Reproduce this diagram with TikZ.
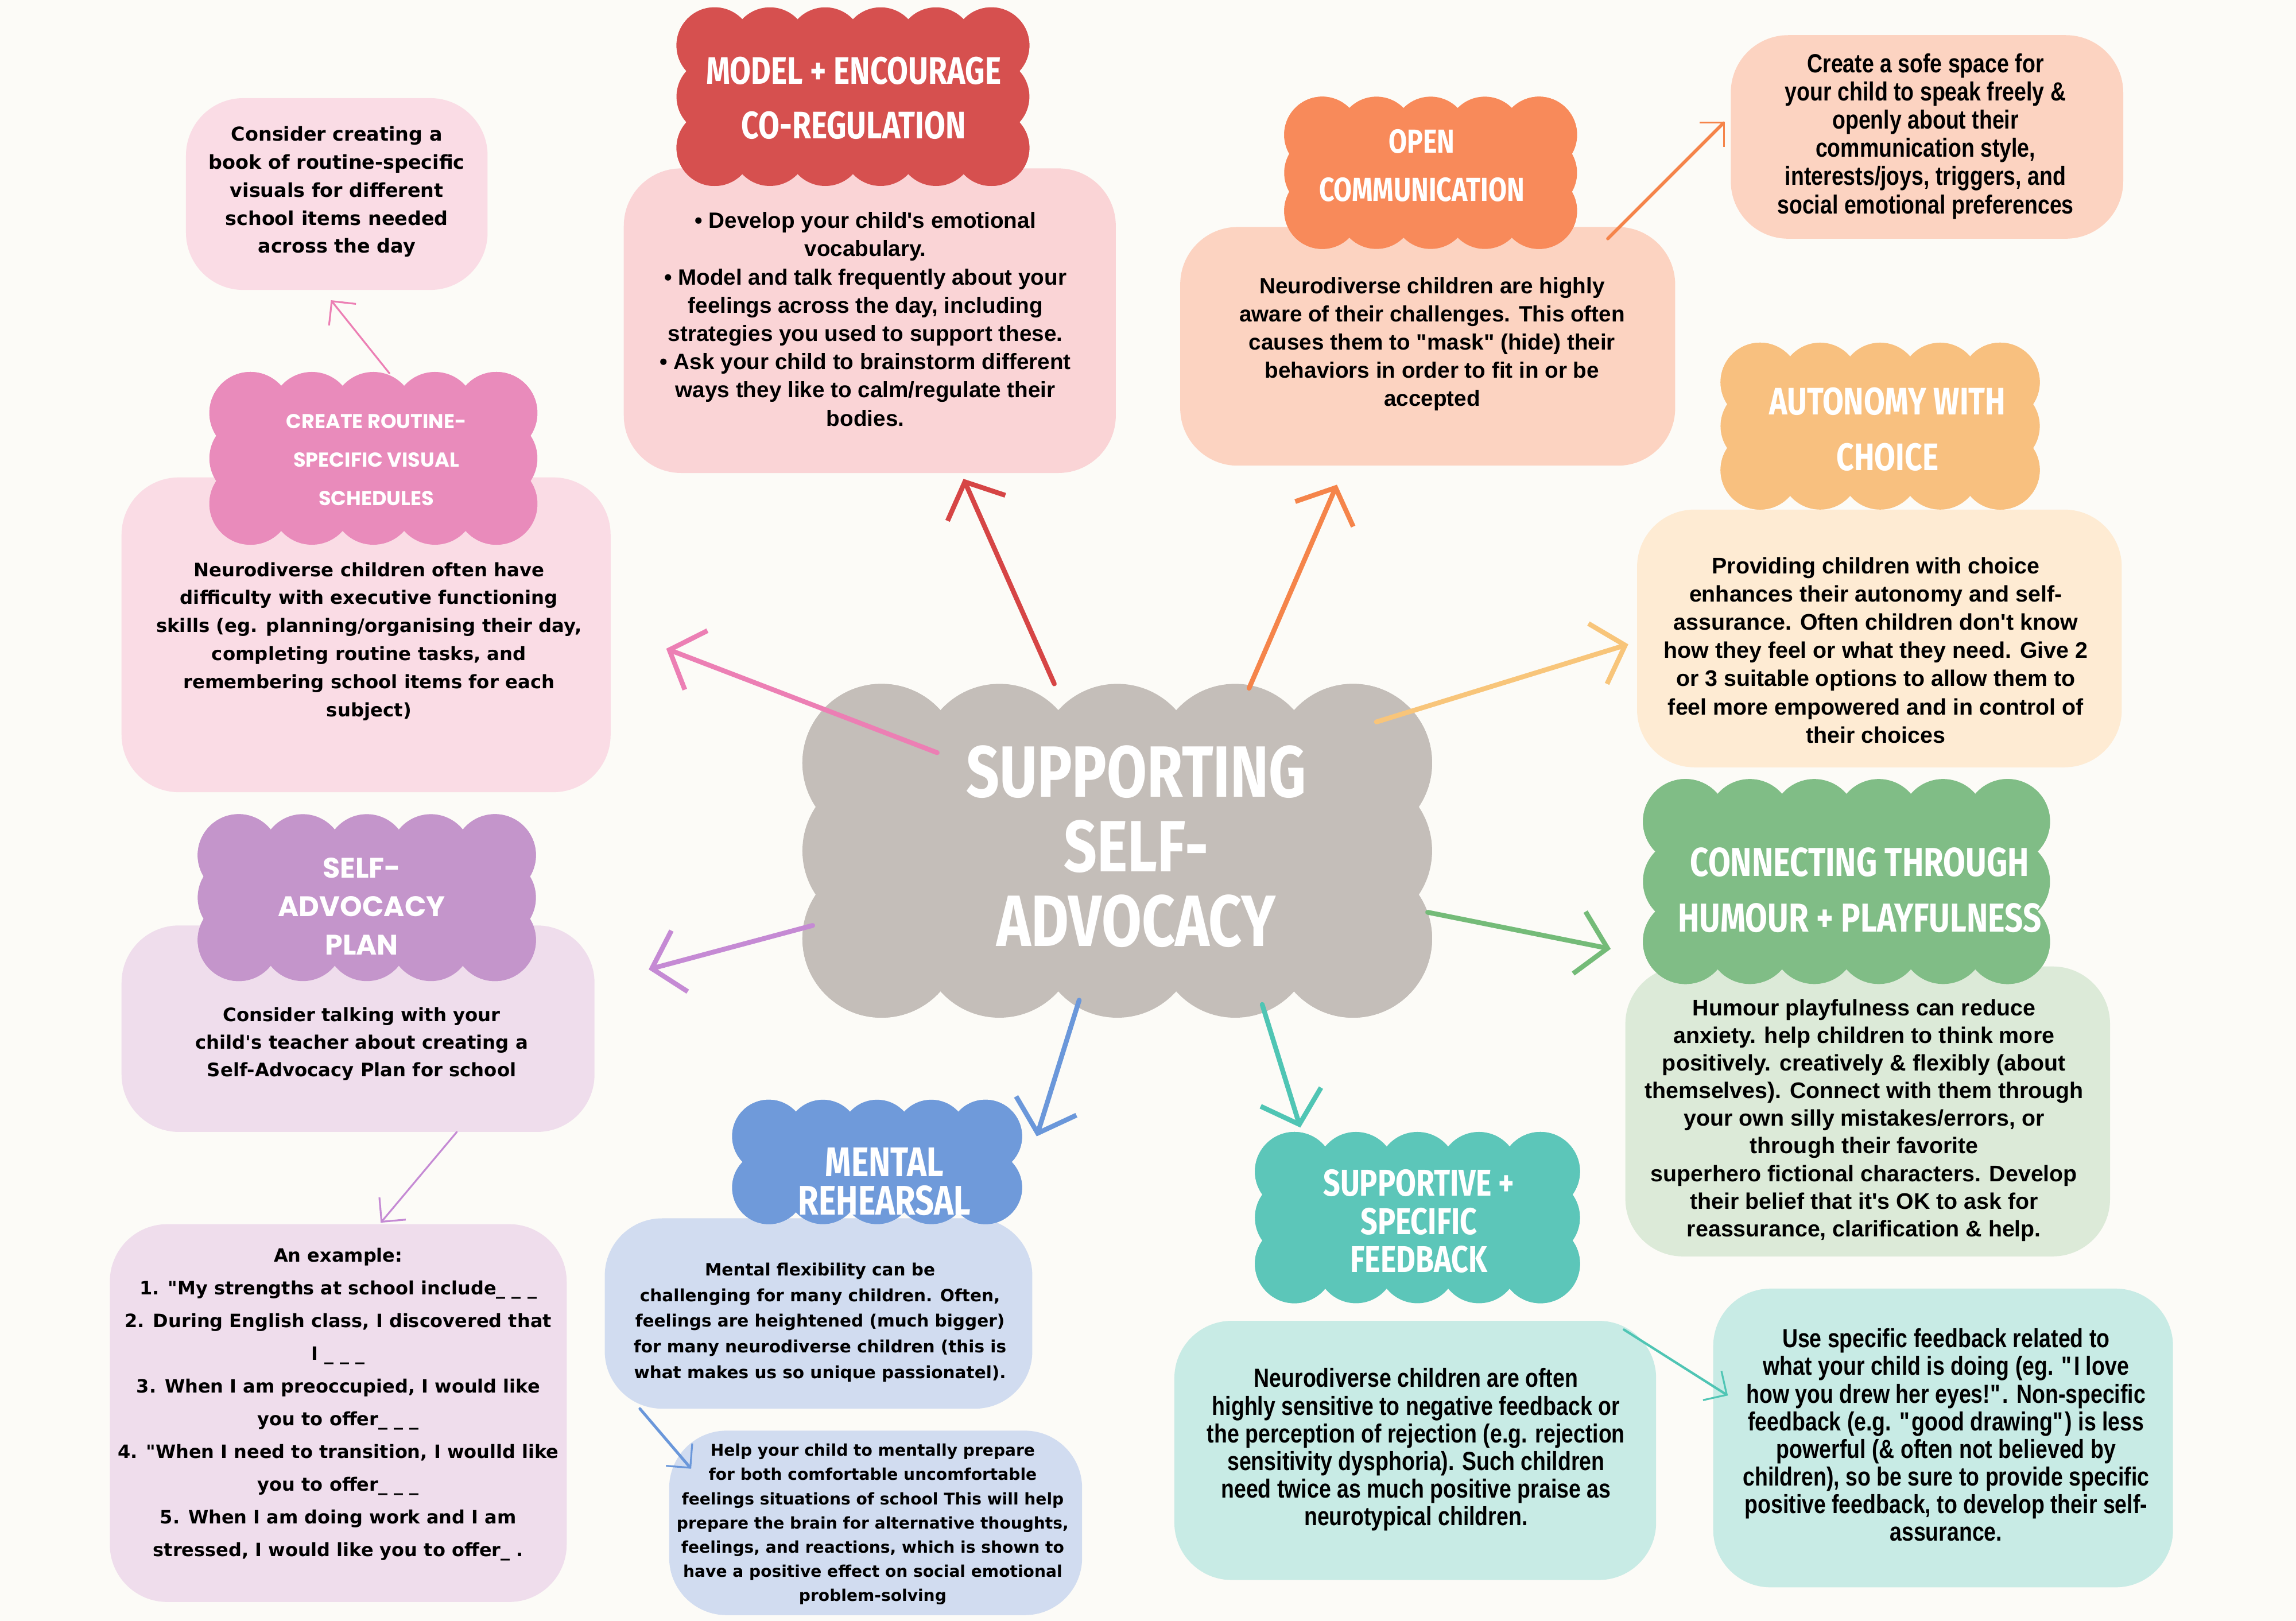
\documentclass[tikz,border=0pt]{standalone}
\usepackage{fontspec}
\setmainfont{Liberation Sans}
\newfontfamily\narrowfont{Liberation Sans}[FakeStretch=0.82]
\newfontfamily\widefont{DejaVu Sans}
\newfontfamily\headfont{Fira Sans}[FakeStretch=0.8]
\newfontfamily\roundfont{Poppins}
\usetikzlibrary{arrows.meta,fit}
\newcommand\q{\textquotedbl}
\newcommand\ap{\textquotesingle}
\definecolor{cBg}{HTML}{FCFBF7}
\definecolor{cCenter}{HTML}{C4BEB9}
\definecolor{cRed}{HTML}{D6504F}
\definecolor{cRedBox}{HTML}{FAD4D6}
\definecolor{cRedArr}{HTML}{D64545}
\definecolor{cOra}{HTML}{F88A5A}
\definecolor{cOraBox}{HTML}{FCD3C1}
\definecolor{cOraArr}{HTML}{F5844A}
\definecolor{cYel}{HTML}{F8C07F}
\definecolor{cYelBox}{HTML}{FEEBD3}
\definecolor{cYelArr}{HTML}{F8C57A}
\definecolor{cGre}{HTML}{80BD86}
\definecolor{cGreBox}{HTML}{DCEAD8}
\definecolor{cGreArr}{HTML}{74BB78}
\definecolor{cTea}{HTML}{5CC6B9}
\definecolor{cTeaBox}{HTML}{C8EBE5}
\definecolor{cTeaArr}{HTML}{4FC5B4}
\definecolor{cBlu}{HTML}{6F9ADA}
\definecolor{cBluBox}{HTML}{D1DCF0}
\definecolor{cBluArr}{HTML}{6A97DA}
\definecolor{cPur}{HTML}{C495CB}
\definecolor{cPurBox}{HTML}{EFDDEC}
\definecolor{cPurArr}{HTML}{C58AD4}
\definecolor{cPin}{HTML}{E98BBB}
\definecolor{cPinBox}{HTML}{FADCE5}
\definecolor{cPinArr}{HTML}{EC7FB4}
% scalloped cloud: x1,y1,x2,y2,nx,ny,r,colour
\newcommand\scloud[8]{%
  \fill[#8] ({#1+#7},{#2+#7}) rectangle ({#3-#7},{#4-#7});
  \foreach \i in {0,...,#5}{
    \fill[#8] ({#1+#7+\i*(#3-#1-2*#7)/#5},{#2+#7}) circle (#7);
    \fill[#8] ({#1+#7+\i*(#3-#1-2*#7)/#5},{#4-#7}) circle (#7);
  }
  \foreach \j in {0,...,#6}{
    \fill[#8] ({#1+#7},{#2+#7+\j*(#4-#2-2*#7)/#6}) circle (#7);
    \fill[#8] ({#3-#7},{#2+#7+\j*(#4-#2-2*#7)/#6}) circle (#7);
  }
}
\begin{document}
\begin{tikzpicture}[x=0.2551mm,y=-0.2551mm,
  box/.style={inner sep=0pt, rounded corners=10mm},
  txt/.style={align=center, inner sep=0pt, text=black, font=\bfseries},
  head/.style={align=center, inner sep=0pt, text=white},
  mainarrow/.style={line width=2.4pt, line cap=round, -{Straight Barb[length=5mm,width=11mm,line width=2.4pt]}},
  thinarrow/.style={line width=0.9pt, line cap=round, -{Straight Barb[length=3mm,width=6mm,line width=0.9pt]}}]
\useasboundingbox (0,0) rectangle (1568,1107);
\fill[cBg] (0,0) rectangle (1568,1107);

% ---------- boxes ----------
\node[box, fill=cRedBox, fit={(426,115) (762,323)}] (bRed) {};
\node[box, fill=cOraBox, fit={(806,155) (1144,318)}] (bOra) {};
\node[box, fill=cOraBox, fit={(1182,24) (1450,163)}] (bSafe) {};
\node[box, fill=cYelBox, fit={(1118,348) (1449,524)}] (bYel) {};
\node[box, fill=cGreBox, fit={(1110,660) (1441,858)}] (bGre) {};
\node[box, fill=cTeaBox, fit={(802,902) (1131,1079)}] (bTea) {};
\node[box, fill=cTeaBox, fit={(1170,880) (1484,1084)}] (bTea2) {};
\node[box, fill=cBluBox, fit={(413,832) (705,962)}] (bBlu) {};
\node[box, fill=cBluBox, fit={(457,977) (739,1103)}] (bBlu2) {};
\node[box, fill=cPurBox, fit={(83,632) (406,773)}] (bPur) {};
\node[box, fill=cPurBox, fit={(75,836) (387,1094)}] (bPur2) {};
\node[box, fill=cPinBox, fit={(83,326) (417,541)}] (bPin) {};
\node[box, fill=cPinBox, fit={(127,67) (333,198)}] (bPin2) {};

% ---------- clouds ----------
\scloud{548}{467}{978}{695}{4}{2}{54}{cCenter}
\scloud{462}{5}{703}{127}{5}{2}{26}{cRed}
\scloud{877}{66}{1077}{170}{4}{2}{26}{cOra}
\scloud{1175}{234}{1393}{348}{4}{2}{27}{cYel}
\scloud{1122}{532}{1400}{672}{5}{2}{29}{cGre}
\scloud{857}{773}{1079}{890}{4}{2}{27}{cTea}
\scloud{500}{751}{698}{836}{4}{1}{25}{cBlu}
\scloud{135}{556}{366}{670}{4}{2}{28}{cPur}
\scloud{143}{254}{367}{372}{4}{2}{28}{cPin}

% ---------- headings ----------
\node[head, font=\headfont\bfseries\fontsize{36}{37}\selectfont] (hC) at (776,578) {SUPPORTING\\SELF-\\ADVOCACY};
\node[head, font=\headfont\bfseries\fontsize{19}{27}\selectfont] (hRed) at (583,67) {MODEL + ENCOURAGE\\CO-REGULATION};
\node[head, font=\headfont\bfseries\fontsize{16.5}{24}\selectfont] (hOra) at (971,113) {OPEN\\COMMUNICATION};
\node[head, font=\headfont\bfseries\fontsize{19}{27.6}\selectfont] (hYel) at (1289,293) {AUTONOMY WITH\\CHOICE};
\node[head, font=\headfont\bfseries\fontsize{20}{27.6}\selectfont] (hGre) at (1270,608) {CONNECTING THROUGH\\HUMOUR + PLAYFULNESS};
\node[head, font=\headfont\bfseries\fontsize{18.5}{19}\selectfont] (hTea) at (969,834) {SUPPORTIVE +\\SPECIFIC\\FEEDBACK};
\node[head, font=\headfont\bfseries\fontsize{20.5}{19}\selectfont] (hBlu) at (604,807) {MENTAL\\REHEARSAL};
\node[head, font=\roundfont\bfseries\fontsize{14}{19}\selectfont] (hPur) at (247,619) {SELF-\\ADVOCACY\\PLAN};
\node[head, font=\roundfont\bfseries\fontsize{10}{19}\selectfont] (hPin) at (257,314) {CREATE ROUTINE-\\SPECIFIC VISUAL\\SCHEDULES};

% ---------- texts ----------
\node[txt, font=\bfseries\fontsize{11}{14}\selectfont] (tRed) at (591,218)
 {• Develop your child\ap s emotional\\vocabulary.\\• Model and talk frequently about your\\feelings across the day, including\\strategies you used to support these.\\• Ask your child to brainstorm different\\ways they like to calm/regulate their\\bodies.};
\node[txt, font=\bfseries\fontsize{11}{14}\selectfont] (tOra) at (978,235)
 {Neurodiverse children are highly\\aware of their challenges. This often\\causes them to \q mask\q{} (hide) their\\behaviors in order to fit in or be\\accepted};
\node[txt, font=\narrowfont\bfseries\fontsize{13}{14}\selectfont] (tSafe) at (1315,93)
 {Create a sofe space for\\your child to speak freely \&\\openly about their\\communication style,\\interests/joys, triggers, and\\social emotional preferences};
\node[txt, font=\bfseries\fontsize{11.2}{14}\selectfont] (tYel) at (1281,444)
 {Providing children with choice\\enhances their autonomy and self-\\assurance. Often children don\ap t know\\how they feel or what they need. Give 2\\or 3 suitable options to allow them to\\feel more empowered and in control of\\their choices};
\node[txt, font=\bfseries\fontsize{11.2}{13.7}\selectfont] (tGre) at (1273,765)
 {Humour playfulness can reduce\\anxiety. help children to think more\\positively. creatively \& flexibly (about\\themselves). Connect with them through\\your own silly mistakes/errors, or\\through their favorite\\superhero fictional characters. Develop\\their belief that it\ap s OK to ask for\\reassurance, clarification \& help.};
\node[txt, font=\narrowfont\bfseries\fontsize{13}{13.7}\selectfont] (tTea) at (967,990)
 {Neurodiverse children are often\\highly sensitive to negative feedback or\\the perception of rejection (e.g. rejection\\sensitivity dysphoria). Such children\\need twice as much positive praise as\\neurotypical children.};
\node[txt, font=\narrowfont\bfseries\fontsize{13}{13.7}\selectfont] (tTea2) at (1329,980)
 {Use specific feedback related to\\what your child is doing (eg. \q I love\\how you drew her eyes!\q. Non-specific\\feedback (e.g. \q good drawing\q) is less\\powerful (\& often not believed by\\children), so be sure to provide specific\\positive feedback, to develop their self-\\assurance.};
\node[txt, font=\widefont\bfseries\fontsize{8.4}{12.7}\selectfont] (tBlu) at (560,903)
 {Mental flexibility can be\\challenging for many children. Often,\\feelings are heightened (much bigger)\\for many neurodiverse children (this is\\what makes us so unique passionatel).};
\node[txt, font=\widefont\bfseries\fontsize{8}{12}\selectfont] (tBlu2) at (596,1041)
 {Help your child to mentally prepare\\for both comfortable uncomfortable\\feelings situations of school This will help\\prepare the brain for alternative thoughts,\\feelings, and reactions, which is shown to\\have a positive effect on social emotional\\problem-solving};
\node[txt, font=\widefont\bfseries\fontsize{9.2}{13.7}\selectfont] (tPur) at (247,713)
 {Consider talking with your\\child\ap s teacher about creating a\\Self-Advocacy Plan for school};
\node[txt, font=\widefont\bfseries\fontsize{9.1}{16.2}\selectfont] (tPur2) at (231,959)
 {An example:\\1. \q My strengths at school include\_ \_ \_\\2. During English class, I discovered that\\I \_ \_ \_\\3. When I am preoccupied, I would like\\you to offer\_ \_ \_\\4. \q When I need to transition, I woulld like\\you to offer\_ \_ \_\\5. When I am doing work and I am\\stressed, I would like you to offer\_ .};
\node[txt, font=\widefont\bfseries\fontsize{9.2}{13.9}\selectfont] (tPin) at (252,438)
 {Neurodiverse children often have\\difficulty with executive functioning\\skills (eg. planning/organising their day,\\completing routine tasks, and\\remembering school items for each\\subject)};
\node[txt, font=\widefont\bfseries\fontsize{9.5}{13.9}\selectfont] (tPin2) at (230,131)
 {Consider creating a\\book of routine-specific\\visuals for different\\school items needed\\across the day};

% ---------- connector end points ----------
\coordinate (sR) at (720,467);  \coordinate (eR) at (658,327);
\coordinate (sO) at (853,470);  \coordinate (eO) at (913,331);
\coordinate (sY) at (940,493);  \coordinate (eY) at (1112,440);
\coordinate (sG) at (975,623);  \coordinate (eG) at (1100,648);
\coordinate (sT) at (862,686);  \coordinate (eT) at (888,770);
\coordinate (sB) at (737,683);  \coordinate (eB) at (708,776);
\coordinate (sP) at (555,632);  \coordinate (eP) at (443,662);
\coordinate (sK) at (640,514);  \coordinate (eK) at (455,443);
\coordinate (s1) at (266,255);  \coordinate (e1) at (226,205);
\coordinate (s2) at (1098,163); \coordinate (e2) at (1178,83);
\coordinate (s3) at (312,773);  \coordinate (e3) at (260,835);
\coordinate (s4) at (437,962);  \coordinate (e4) at (472,1003);
\coordinate (s5) at (1109,908); \coordinate (e5) at (1180,953);

\draw[mainarrow, cRedArr] (sR) -- (eR);
\draw[mainarrow, cOraArr] (sO) -- (eO);
\draw[mainarrow, cYelArr] (sY) -- (eY);
\draw[mainarrow, cGreArr] (sG) -- (eG);
\draw[mainarrow, cTeaArr] (sT) -- (eT);
\draw[mainarrow, cBluArr] (sB) -- (eB);
\draw[mainarrow, cPurArr] (sP) -- (eP);
\draw[mainarrow, cPinArr] (sK) -- (eK);

\draw[thinarrow, cPinArr] (s1) -- (e1);
\draw[thinarrow, cOraArr, line width=1.6pt] (s2) -- (e2);
\draw[thinarrow, cPurArr] (s3) -- (e3);
\draw[thinarrow, cBluArr, line width=1.4pt] (s4) -- (e4);
\draw[thinarrow, cTeaArr, line width=1.2pt] (s5) -- (e5);
\end{tikzpicture}
\end{document}
